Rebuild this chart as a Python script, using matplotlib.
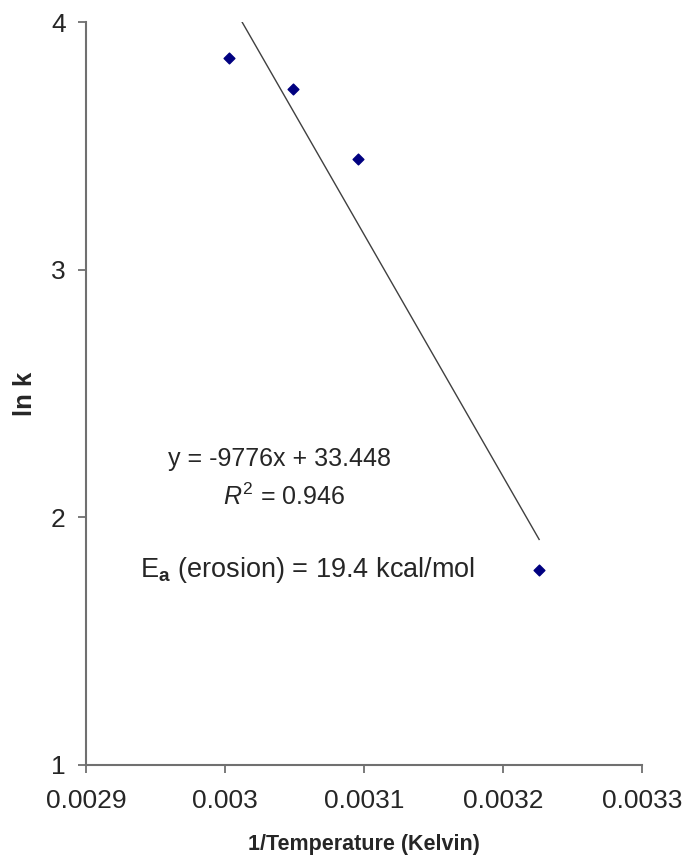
import matplotlib
matplotlib.use("Agg")
import matplotlib.pyplot as plt
import numpy as np

# Arrhenius data: inverse temperature vs. log of erosion rate constant
inv_temp = [0.003003, 0.003049, 0.003096, 0.003226]
ln_k = [3.855, 3.73, 3.448, 1.786]

# linear trendline reported for the fit
slope = -9776
intercept = 33.448
r_squared = 0.946
activation_energy = 19.4

x_ticks = [0.0029, 0.003, 0.0031, 0.0032, 0.0033]
x_tick_labels = ["0.0029", "0.003", "0.0031", "0.0032", "0.0033"]
y_ticks = [1, 2, 3, 4]

plt.rcParams['font.family'] = ['Liberation Sans', 'DejaVu Sans']
plt.rcParams['mathtext.fontset'] = 'custom'
plt.rcParams['mathtext.rm'] = 'Liberation Sans'
plt.rcParams['mathtext.it'] = 'Liberation Sans:italic'
plt.rcParams['mathtext.bf'] = 'Liberation Sans:bold'

text_color = '#262626'
axis_color = '#707070'

fig = plt.figure(figsize=(6.87, 8.63), dpi=100)
ax = fig.add_axes([0.1252, 0.1136, 0.8093, 0.8609])

ymin, ymax = 1, 4
xmin, xmax = 0.0029, 0.0033

# trendline runs from the top of the plot down to the last data point
line_x = np.array([(ymax - intercept) / slope, max(inv_temp)])
ax.plot(line_x, slope * line_x + intercept, color='#404040', linewidth=1.0)

ax.scatter(inv_temp, ln_k, marker='D', s=30, color='#000080', zorder=3)

ax.set_xlim(xmin, xmax)
ax.set_ylim(ymin, ymax)
ax.set_xticks(x_ticks)
ax.set_xticklabels(x_tick_labels)
ax.set_yticks(y_ticks)

for side in ['top', 'right']:
    ax.spines[side].set_visible(False)
for side in ['left', 'bottom']:
    ax.spines[side].set_color(axis_color)
    ax.spines[side].set_linewidth(1.5)
ax.tick_params(axis='both', direction='out', length=5.5, width=1.3,
               color=axis_color, labelsize=19, labelcolor=text_color)
ax.tick_params(axis='x', pad=12)
ax.tick_params(axis='y', pad=9)

ax.set_xlabel('1/Temperature (Kelvin)', fontsize=15.5, fontweight='bold',
              color=text_color)
ax.xaxis.set_label_coords(0.5, -0.093)
ax.set_ylabel('ln k', fontsize=18.5, fontweight='bold', color=text_color)
ax.yaxis.set_label_coords(-0.088, 0.5)

ax.text(0.002959, 2.2073, f'y = {slope}x + {intercept}', fontsize=18,
        ha='left', va='baseline', color=text_color)
ax.text(0.0029985, 2.0498, rf'$\mathit{{R}}^{{2}}$ = {r_squared}', fontsize=18,
        ha='left', va='baseline', color=text_color)
ax.text(0.0029388, 1.757, rf'E$_{{\mathbf{{a}}}}$ (erosion) = {activation_energy} kcal/mol',
        fontsize=19.5, ha='left', va='baseline', color=text_color)

fig.savefig('out.png', dpi=100)
